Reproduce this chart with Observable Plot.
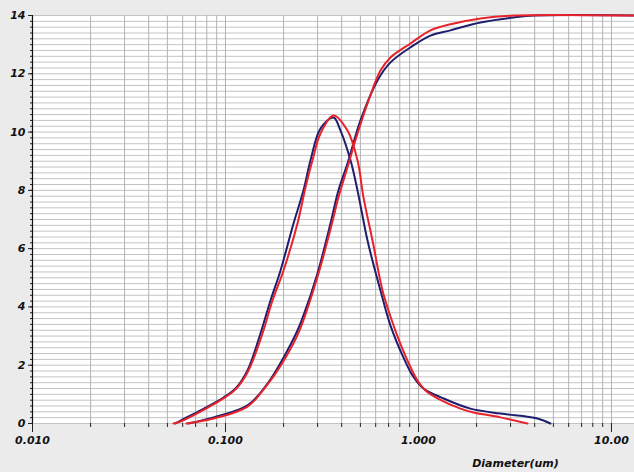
<!DOCTYPE html>
<html>
<head>
<meta charset="utf-8">
<script src="https://cdn.jsdelivr.net/npm/d3@7"></script>
<script src="https://cdn.jsdelivr.net/npm/@observablehq/plot@0.6"></script>
<style>
  html, body { margin: 0; padding: 0; background: #ebebeb; }
</style>
</head>
<body>
<div id="chart"></div>
<script>
// Tick values and labels
const xTickValues = [0.01, 0.1, 1, 10];
const xTickLabels = ["0.010", "0.100", "1.000", "10.00"];
const yTickValues = [0, 2, 4, 6, 8, 10, 12, 14];
const xLabel = "Diameter(um)";

// Frequency curve – measured (blue)
const freqBlueD = [0.0551,0.0585,0.0742,0.0976,0.1127,0.130,0.1518,0.1711,0.1928,0.2251,0.2536,0.2757,0.3106,0.3628,0.3944,0.4444,0.4830,0.5443,0.6355,0.7160,0.8363,0.9309,1.061,1.347,1.859,2.660,4.137,4.831];
const freqBlueV = [0,0.10,0.45,0.89,1.20,1.82,3.09,4.22,5.25,6.86,8.0,9.03,10.12,10.5,10.05,9.03,8.0,6.28,4.56,3.36,2.26,1.65,1.20,0.86,0.51,0.34,0.17,0];

// Frequency curve – fitted (red)
const freqRedD = [0.0538,0.0585,0.0742,0.0976,0.1127,0.130,0.1555,0.1752,0.1998,0.2360,0.2597,0.2823,0.3106,0.3628,0.4286,0.4830,0.5188,0.5778,0.6510,0.7160,0.7784,0.877,0.988,1.087,1.254,1.650,1.928,2.660,3.671];
const freqRedV = [0,0.07,0.41,0.86,1.17,1.75,3.09,4.22,5.25,6.86,8.1,9.03,9.95,10.57,10.05,9.03,7.76,6.28,4.56,3.67,2.99,2.16,1.47,1.13,0.86,0.51,0.38,0.21,0];

// Cumulative curve – measured (blue)
const cumBlueD = [0.0643,0.0867,0.130,0.1651,0.1998,0.2360,0.2536,0.2996,0.3499,0.3849,0.4286,0.5006,0.6132,0.7160,0.93,1.154,1.465,2.094,3.105,4.0,13.16];
const cumBlueV = [0,0.21,0.62,1.37,2.26,3.19,3.71,5.15,6.86,8.0,8.92,10.4,11.77,12.39,12.95,13.31,13.49,13.76,13.93,14,14];

// Cumulative curve – fitted (red)
const cumRedD = [0.0628,0.0867,0.130,0.1651,0.2046,0.2417,0.3033,0.3560,0.3849,0.4286,0.4830,0.5508,0.6355,0.7160,0.909,1.154,1.465,2.094,3.105,13.16];
const cumRedV = [0,0.17,0.58,1.34,2.26,3.19,5.15,6.86,7.76,8.79,9.95,11.08,12.11,12.56,13.04,13.49,13.7,13.9,14,14];

const BLUE = "#1e1e6e";
const RED = "#e8222a";

function rows(D, V, id) { return D.map((d, i) => ({d, v: V[i], id})); }
const blueData = [...rows(freqBlueD, freqBlueV, "fb"), ...rows(cumBlueD, cumBlueV, "cb")];
const redData = [...rows(freqRedD, freqRedV, "fr"), ...rows(cumRedD, cumRedV, "cr")];

const xMax = 13.16;
const xMinor = [];
for (const dec of xTickValues) for (let k = 1; k <= 9; k++) {
  const v = +(dec * k).toPrecision(3);
  if (v <= xMax) xMinor.push(v);
}
const yGrid = d3.range(0, 71).map(i => +(i * 0.2).toFixed(1));

const chart = Plot.plot({
  width: 634,
  height: 472,
  marginLeft: 32,
  marginTop: 15,
  marginRight: 0,
  marginBottom: 49,
  x: {type: "log", domain: [0.01, xMax], label: null},
  y: {domain: [0, 14], label: null},
  style: {background: "#ebebeb", fontFamily: "DejaVu Sans", fontWeight: "bold", fontStyle: "italic", fontSize: "11px", color: "#111"},
  marks: [
    Plot.frame({fill: "white", stroke: null}),
    Plot.ruleY(yGrid, {stroke: "#c4c4c4", strokeWidth: 1}),
    Plot.ruleX(xMinor, {stroke: "#b2b2b2", strokeWidth: 1}),
    Plot.axisX({ticks: xMinor, tickSize: 4, tickFormat: () => "", label: null, stroke: "#222"}),
    Plot.axisX({ticks: xTickValues, tickSize: 9, tickPadding: 4, label: null, stroke: "#222",
      tickFormat: d => xTickLabels[xTickValues.indexOf(d)]}),
    Plot.axisY({ticks: yGrid, tickSize: 2, tickFormat: () => "", label: null, stroke: "#222"}),
    Plot.axisY({ticks: yTickValues, tickSize: 4, tickPadding: 3, label: null, stroke: "#222"}),
    Plot.ruleX([0.01], {stroke: "#111", strokeWidth: 1.2}),
    Plot.line(blueData, {x: "d", y: "v", z: "id", stroke: BLUE, strokeWidth: 2, curve: "catmull-rom"}),
    Plot.line(redData, {x: "d", y: "v", z: "id", stroke: RED, strokeWidth: 2, curve: "catmull-rom"}),
    Plot.text([xLabel], {frameAnchor: "bottom-right", dx: -119, dy: 43, textAnchor: "middle", fontSize: 11})
  ]
});
document.getElementById("chart").append(chart);
</script>
</body>
</html>
